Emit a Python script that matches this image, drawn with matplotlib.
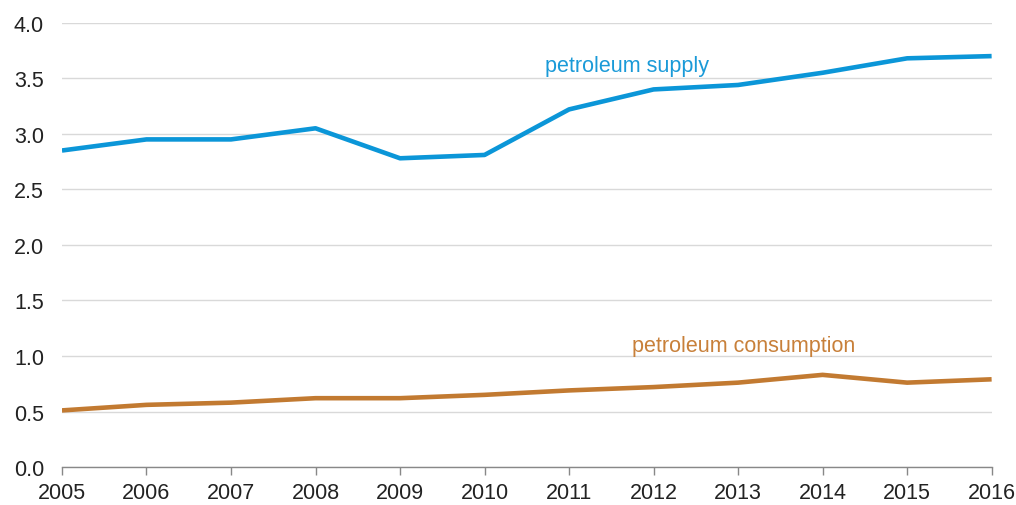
import matplotlib
matplotlib.use("Agg")
import matplotlib.pyplot as plt

years = [2005, 2006, 2007, 2008, 2009, 2010, 2011, 2012, 2013, 2014, 2015, 2016]
supply = [2.85, 2.95, 2.95, 3.05, 2.78, 2.81, 3.22, 3.40, 3.44, 3.55, 3.68, 3.70]
consumption = [0.51, 0.56, 0.58, 0.62, 0.62, 0.65, 0.69, 0.72, 0.76, 0.83, 0.76, 0.79]
yticks = [0.0, 0.5, 1.0, 1.5, 2.0, 2.5, 3.0, 3.5, 4.0]

plt.rcParams['font.family'] = ['Liberation Sans', 'DejaVu Sans']

fig = plt.figure(figsize=(10.16, 5.06), dpi=100)
ax = fig.add_axes([0.061, 0.075, 0.915, 0.878])

blue = '#0b96d8'
orange = '#c27a31'
ax.plot(years, supply, color=blue, lw=3.3, solid_capstyle='butt', zorder=3)
ax.plot(years, consumption, color=orange, lw=3.3, solid_capstyle='butt', zorder=3)

ax.set_xlim(2005, 2016)
ax.set_ylim(0, 4.0)
ax.set_yticks(yticks)
ax.set_yticklabels([f"{v:.1f}" for v in yticks])
ax.set_xticks(years)
ax.set_xticklabels([str(y) for y in years])

ax.grid(axis='y', color='#d9d9d9', lw=1.0, zorder=0)
for s in ['top', 'right', 'left']:
    ax.spines[s].set_visible(False)
ax.spines['bottom'].set_color('#888888')
ax.spines['bottom'].set_linewidth(1.0)
ax.tick_params(axis='y', length=0, labelsize=15.5, colors='#222222', pad=13)
ax.tick_params(axis='x', length=6, width=1.0, color='#888888', labelsize=15.5,
               labelcolor='#222222', pad=5)

ax.text(2010.72, 3.57, 'petroleum supply', color='#1a9ad8', fontsize=15.5)
ax.text(2011.74, 1.045, 'petroleum consumption', color='#c8803a', fontsize=15.5)

fig.savefig('out.png', dpi=100, facecolor='white')
